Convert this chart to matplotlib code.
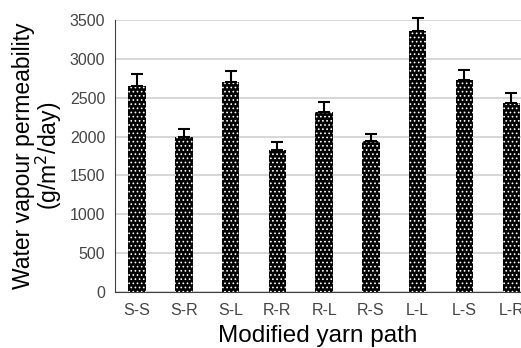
import matplotlib.pyplot as plt
import numpy as np

paths = ["S-S", "S-R", "S-L", "R-R", "R-L", "R-S", "L-L", "L-S", "L-R"]
wvp = [2655, 2000, 2705, 1830, 2310, 1940, 3360, 2730, 2435]
wvp_err = [150, 100, 138, 102, 140, 95, 172, 132, 120]

plt.rcParams["hatch.linewidth"] = 0.7

fig = plt.figure(figsize=(5.21, 3.48), dpi=100)
ax = fig.add_axes([0.221, 0.162, 0.779, 0.780])

x = np.arange(len(paths))
ax.bar(x, wvp, width=0.37, color="black", edgecolor="white", linewidth=0,
       hatch="....", zorder=3)
eb = ax.errorbar(x, wvp, yerr=[np.zeros(len(wvp)), wvp_err], fmt="none",
                 ecolor="black", elinewidth=1.5, capsize=4, capthick=1.5,
                 zorder=4)
for art in eb.get_children():
    art.set_clip_on(False)

ax.set_ylim(0, 3500)
ax.set_yticks(np.arange(0, 3501, 500))
ax.set_xlim(-0.47, 8.21)
ax.set_xticks(x)
ax.set_xticklabels(paths)
ax.grid(axis="y", color="#d0d0d0", linewidth=1.2, zorder=0)
ax.tick_params(length=0, labelsize=11.5, labelcolor="#454545")
ax.tick_params(axis="x", pad=8)
ax.tick_params(axis="y", pad=7)
for lbl in ax.get_xticklabels() + ax.get_yticklabels():
    lbl.set_family("Liberation Sans")

for s in ["top", "right"]:
    ax.spines[s].set_visible(False)
ax.spines["left"].set_color("#404040")
ax.spines["bottom"].set_color("#404040")

ax.set_ylabel("Water vapour permeability\n(g/m$^2$/day)", fontsize=16.5,
              family="Liberation Sans", labelpad=4, linespacing=0.95)
ax.set_xlabel("Modified yarn path", fontsize=17.5, family="Liberation Sans",
              labelpad=5)

fig.savefig("out.png", dpi=100)
